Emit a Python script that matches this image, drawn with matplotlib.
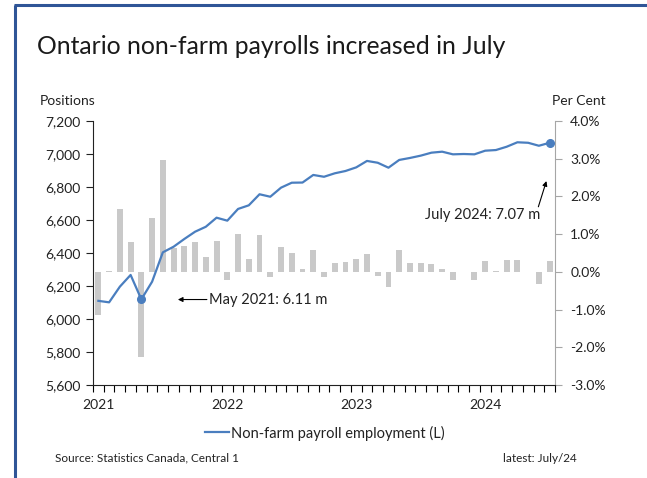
import numpy as np
import matplotlib.pyplot as plt
from matplotlib.lines import Line2D
from matplotlib.ticker import FuncFormatter

plt.rcParams['font.family'] = ['Lato', 'DejaVu Sans']

# monthly data, Jan 2021 .. Jul 2024
months = [f'{y}-{m:02d}' for y in range(2021, 2025) for m in range(1, 13)][:43]

# payroll employment, thousands of positions (left axis)
employment = [6110, 6101, 6196, 6267, 6119, 6226, 6404, 6438, 6485, 6529, 6559, 6614,
              6596, 6667, 6689, 6756, 6741, 6796, 6826, 6827, 6873, 6862, 6883, 6897,
              6919, 6958, 6947, 6917, 6964, 6976, 6990, 7008, 7014, 6998, 7000, 6998,
              7020, 7024, 7044, 7071, 7068, 7050, 7068]

# month-over-month change, per cent (right axis)
pct_change = [-1.14, 0.02, 1.67, 0.78, -2.25, 1.42, 2.97, 0.63, 0.69, 0.78, 0.40, 0.83,
              -0.21, 1.00, 0.34, 0.97, -0.14, 0.67, 0.49, 0.08, 0.58, -0.13, 0.23, 0.25,
              0.33, 0.48, -0.10, -0.41, 0.57, 0.23, 0.24, 0.21, 0.08, -0.21, -0.01, -0.21,
              0.28, 0.01, 0.32, 0.32, -0.01, -0.31, 0.29]

year_labels = ['2021', '2022', '2023', '2024']
left_ticks = [5600, 5800, 6000, 6200, 6400, 6600, 6800, 7000, 7200]
right_ticks = [-3, -2, -1, 0, 1, 2, 3, 4]

LINE_COLOR = '#4a7ebf'
BAR_COLOR = '#c9c9c9'
FRAME_COLOR = '#2f5597'


def main():
    fig = plt.figure(figsize=(6.47, 4.78), dpi=100)
    ax = fig.add_axes([93 / 647, 1 - 385 / 478, 462 / 647, 264 / 478])
    ax2 = ax.twinx()
    ax.set_zorder(ax2.get_zorder() + 1)
    ax.patch.set_visible(False)

    x = np.arange(len(months))

    ax2.bar(x, pct_change, width=0.55, color=BAR_COLOR)
    ax2.set_ylim(-3, 4)
    ax2.set_yticks(right_ticks)
    ax2.yaxis.set_major_formatter(FuncFormatter(lambda v, p: f'{v:.1f}%'))

    ax.plot(x, employment, color=LINE_COLOR, lw=1.6, label='Non-farm payroll employment (L)')
    for i in (4, 42):
        ax.plot(x[i], employment[i], 'o', color=LINE_COLOR, ms=5.5)

    ax.set_xlim(-0.5, len(months) - 0.5)
    ax.set_ylim(5600, 7200)
    ax.set_yticks(left_ticks)
    ax.yaxis.set_major_formatter(FuncFormatter(lambda v, p: f'{int(v):,}'))

    ax.set_xticks(np.arange(0, len(months), 12))
    ax.set_xticklabels(year_labels)
    ax.set_xticks(np.arange(-0.5, len(months)), minor=True)
    ax.tick_params(axis='x', which='major', length=0, pad=10, labelsize=10, colors='#222222')
    ax.tick_params(axis='x', which='minor', length=5, direction='out', width=0.8)
    ax.tick_params(axis='y', length=5, direction='out', width=0.8, labelsize=10,
                   colors='#222222', pad=4)
    ax2.tick_params(axis='y', length=5, direction='out', width=0.8, labelsize=10,
                    color='#a6a6a6', labelcolor='#222222', pad=6)

    for a in (ax, ax2):
        a.spines['top'].set_visible(False)
    ax.spines['right'].set_visible(False)
    ax2.spines['left'].set_visible(False)
    ax2.spines['bottom'].set_visible(False)
    ax2.spines['right'].set_color('#a6a6a6')
    ax.spines['left'].set_color('#222222')
    ax.spines['bottom'].set_color('#222222')

    # annotations
    ax.annotate('', xy=(7.4, 6118), xytext=(10.1, 6118),
                arrowprops=dict(arrowstyle='-|>', color='black', lw=0.8,
                                mutation_scale=7, shrinkA=0, shrinkB=0))
    ax.text(10.3, 6118, 'May 2021: 6.11 m', ha='left', va='center', fontsize=10.5,
            color='#222222')
    ax.annotate('', xy=(41.7, 6836), xytext=(40.95, 6680),
                arrowprops=dict(arrowstyle='-|>', color='black', lw=0.8,
                                mutation_scale=7, shrinkA=0, shrinkB=0))
    ax.text(41.15, 6630, 'July 2024: 7.07 m', ha='right', va='center', fontsize=10.5,
            color='#222222')

    # titles and labels
    fig.text(37 / 647, 1 - 46 / 478, 'Ontario non-farm payrolls increased in July',
             fontsize=17.8, va='center', ha='left', color='#1a1a1a')
    fig.text(40 / 647, 1 - 101 / 478, 'Positions', fontsize=10, va='center', color='#222222')
    fig.text(552 / 647, 1 - 101 / 478, 'Per Cent', fontsize=10, va='center', color='#222222')

    ax.legend(loc='center', bbox_to_anchor=(325 / 647, 1 - 433 / 478),
              bbox_transform=fig.transFigure, frameon=False, fontsize=10.5,
              handlelength=1.6, handletextpad=0.15, labelcolor='#222222')

    fig.text(55 / 647, 1 - 458 / 478, 'Source: Statistics Canada, Central 1',
             fontsize=8.5, va='center', color='#222222')
    fig.text(577 / 647, 1 - 458 / 478, 'latest: July/24', fontsize=8.5, va='center',
             ha='right', color='#222222')

    # blue frame
    fig.add_artist(Line2D([15 / 647, 15 / 647], [0, 1 - 5 / 478], transform=fig.transFigure,
                          color=FRAME_COLOR, lw=2.2, solid_capstyle='butt'))
    fig.add_artist(Line2D([14 / 647, 1], [1 - 5 / 478, 1 - 5 / 478], transform=fig.transFigure,
                          color=FRAME_COLOR, lw=2.2, solid_capstyle='butt'))

    fig.savefig('out.png', dpi=100)


if __name__ == '__main__':
    main()
